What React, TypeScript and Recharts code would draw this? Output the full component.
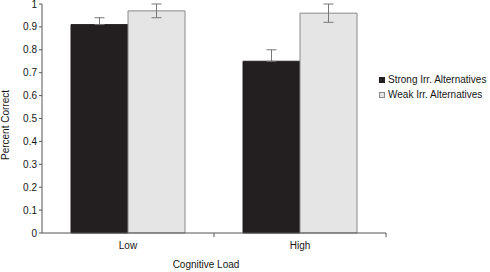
import React from "react";
import { BarChart, Bar, XAxis, YAxis, ErrorBar, Legend } from "recharts";

const categories = ["Low", "High"];
const strongValues = [0.91, 0.75];
const strongErrors = [0.03, 0.05];
const weakValues = [0.97, 0.96];
const weakErrors = [0.03, 0.04];
const yTicks = [0, 0.1, 0.2, 0.3, 0.4, 0.5, 0.6, 0.7, 0.8, 0.9, 1];

const seriesNames = ["Strong Irr. Alternatives", "Weak Irr. Alternatives"];

// the lower whisker of the dark bars is hidden inside the bar in the original
const data = categories.map((c, i) => ({
  load: c,
  strong: strongValues[i],
  strongErr: [0, strongErrors[i]],
  weak: weakValues[i],
  weakErr: weakErrors[i],
}));

const FONT = "'Liberation Sans', Arial, sans-serif";
const TEXT = "#161616";
const AXIS = "#555";
const DARK = "#231f20";
const LIGHT = "#e5e5e5";
const LIGHT_EDGE = "#8a8a8a";

const W = 490;
const H = 272;
const MARGIN = { top: 4, right: 104, left: 0, bottom: 0 };
const Y_WIDTH = 42;
const BAND = (W - MARGIN.right - MARGIN.left - Y_WIDTH) / categories.length;

// category label at the band centre, tick mark at the band's right edge
function CategoryTick(props: any) {
  const { x, y, payload } = props;
  return (
    <g>
      <line x1={x + BAND / 2} x2={x + BAND / 2} y1={y} y2={y + 4} stroke={AXIS} />
      <text x={x} y={y + 16} textAnchor="middle" fontSize={10} fill={TEXT} fontFamily={FONT}>
        {payload.value}
      </text>
    </g>
  );
}

function LegendBox() {
  const swatches = [
    { fill: DARK, stroke: DARK },
    { fill: LIGHT, stroke: LIGHT_EDGE },
  ];
  return (
    <div style={{ fontFamily: FONT, fontSize: 10, color: TEXT, lineHeight: "14.5px" }}>
      {seriesNames.map((name, i) => (
        <div key={name} style={{ display: "flex", alignItems: "center", whiteSpace: "nowrap" }}>
          <svg width={6} height={6} style={{ marginRight: 3, flexShrink: 0 }}>
            <rect x={0.5} y={0.5} width={5} height={5} fill={swatches[i].fill} stroke={swatches[i].stroke} />
          </svg>
          <span>{name}</span>
        </div>
      ))}
    </div>
  );
}

export default function App() {
  return (
    <div style={{ position: "absolute", left: 0, top: 0, width: W, height: H, background: "#fff", overflow: "hidden" }}>
      <BarChart width={W} height={H} data={data} margin={MARGIN} barSize={57} barGap={0}>
        <XAxis
          dataKey="load"
          height={39}
          stroke={AXIS}
          tickLine={false}
          tickSize={0}
          tickMargin={0}
          tick={<CategoryTick />}
          label={() => (
            <text x={206} y={268} textAnchor="middle" fontSize={10} fill={TEXT} fontFamily={FONT}>
              Cognitive Load
            </text>
          )}
        />
        <YAxis
          width={Y_WIDTH}
          domain={[0, 1]}
          ticks={yTicks}
          interval={0}
          stroke={AXIS}
          tickSize={3}
          tickMargin={2}
          tickFormatter={(v: number) => String(Math.round(v * 10) / 10)}
          tick={{ fontSize: 10, fill: TEXT, fontFamily: FONT }}
          label={() => (
            <text
              x={9}
              y={125}
              transform="rotate(-90 9 125)"
              textAnchor="middle"
              fontSize={10}
              fill={TEXT}
              fontFamily={FONT}
            >
              Percent Correct
            </text>
          )}
        />
        <Legend
          layout="vertical"
          align="center"
          verticalAlign="middle"
          wrapperStyle={{ left: 379, top: 73, width: 111 }}
          content={<LegendBox />}
        />
        <Bar dataKey="strong" name={seriesNames[0]} fill={DARK} stroke={DARK} isAnimationActive={false}>
          <ErrorBar dataKey="strongErr" width={5} stroke="#777" strokeWidth={1} />
        </Bar>
        <Bar dataKey="weak" name={seriesNames[1]} fill={LIGHT} stroke={LIGHT_EDGE} isAnimationActive={false}>
          <ErrorBar dataKey="weakErr" width={5} stroke="#777" strokeWidth={1} />
        </Bar>
      </BarChart>
    </div>
  );
}
